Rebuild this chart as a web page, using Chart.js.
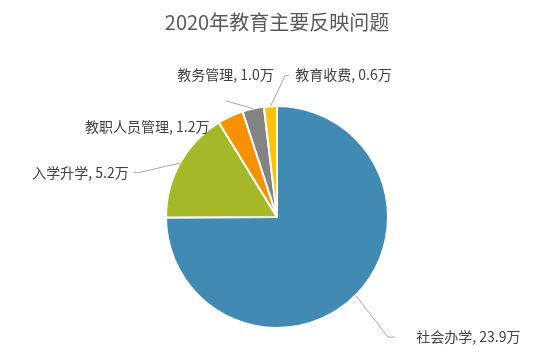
<!DOCTYPE html>
<html>
<head>
<meta charset="utf-8">
<script src="https://cdn.jsdelivr.net/npm/chart.js@4/dist/chart.umd.min.js"></script>
<style>
  html, body { margin: 0; padding: 0; background: #fff; }
  #wrap { width: 554px; height: 352px; }
</style>
</head>
<body>
<div id="wrap"><canvas id="chart"></canvas></div>
<script>
'use strict';

var categories = ['社会办学', '入学升学', '教职人员管理', '教务管理', '教育收费'];
var values = [23.9, 5.2, 1.2, 1.0, 0.6];
var colors = ['#418ab3', '#a6b727', '#f69200', '#838383', '#fec306'];
var unit = '万';

// label placement, in units of the pie radius, measured from the pie centre
var labelLayout = [
    { tx: 1.255, ty: 1.082, align: 'left', line: [[1.0, 1.082], [1.064, 1.082]] },
    { tx: -1.336, ty: -0.4, align: 'right', line: [[-1.245, -0.4], [-1.29, -0.4]] },
    { tx: -0.609, ty: -0.818, align: 'right', line: [] },
    { tx: -0.464, ty: -1.282, align: 'center', line: [[-0.455, -1.045]] },
    { tx: 0.164, ty: -1.282, align: 'left', line: [[0.073, -1.273], [0.109, -1.273]] }
];

var pieLabels = {
    id: 'pieLabels',
    afterDatasetsDraw: function (chart) {
        var ctx = chart.ctx;
        var meta = chart.getDatasetMeta(0);
        ctx.save();
        meta.data.forEach(function (arc, i) {
            var p = arc.getProps(['x', 'y', 'startAngle', 'endAngle', 'outerRadius'], true);
            var r = p.outerRadius;
            var mid = (p.startAngle + p.endAngle) / 2;
            var lay = labelLayout[i];
            if (lay.line.length) {
                ctx.beginPath();
                ctx.strokeStyle = '#a6a6a6';
                ctx.lineWidth = 1;
                ctx.moveTo(p.x + Math.cos(mid) * r, p.y + Math.sin(mid) * r);
                lay.line.forEach(function (pt) {
                    ctx.lineTo(p.x + pt[0] * r, p.y + pt[1] * r);
                });
                ctx.stroke();
            }
            ctx.fillStyle = '#404040';
            ctx.font = '14px "Noto Sans CJK SC", "Noto Sans", sans-serif';
            ctx.textAlign = lay.align;
            ctx.textBaseline = 'middle';
            ctx.fillText(categories[i] + ', ' + values[i].toFixed(1) + unit, p.x + lay.tx * r, p.y + lay.ty * r);
        });
        ctx.restore();
    }
};

new Chart(document.getElementById('chart'), {
    type: 'pie',
    data: {
        labels: categories,
        datasets: [{
            data: values,
            backgroundColor: colors,
            borderColor: '#ffffff',
            borderWidth: 2
        }]
    },
    options: {
        responsive: true,
        maintainAspectRatio: false,
        animation: false,
        layout: { padding: { top: 0, bottom: 23, left: 0, right: 0 } },
        plugins: {
            legend: { display: false },
            tooltip: { enabled: false },
            title: {
                display: true,
                text: '2020年教育主要反映问题',
                color: '#595959',
                font: { family: '"Noto Sans CJK SC", "Noto Sans", sans-serif', size: 20, weight: 'normal' },
                padding: { top: 10, bottom: 71 }
            }
        }
    },
    plugins: [pieLabels]
});
</script>
</body>
</html>
